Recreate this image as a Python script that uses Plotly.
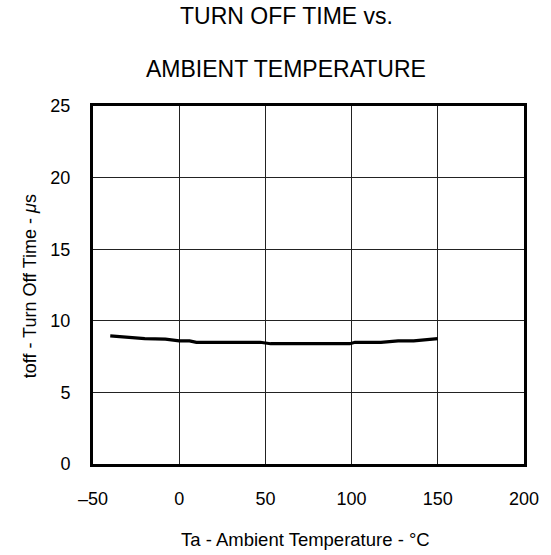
import plotly.graph_objects as go

# Data
temperature_c = [-40, -20, -8, 0, 6, 10, 47, 53, 99, 102, 117, 127, 136, 150]
toff_us = [8.95, 8.75, 8.72, 8.6, 8.6, 8.5, 8.5, 8.4, 8.4, 8.5, 8.5, 8.6, 8.6, 8.75]

x_ticks = [-50, 0, 50, 100, 150, 200]
x_tick_labels = ["\u201350", "0", "50", "100", "150", "200"]
y_ticks = [0, 5, 10, 15, 20, 25]
y_tick_labels = ["0", "5", "10", "15", "20", "25"]

title_lines = ["TURN OFF TIME vs.", "AMBIENT TEMPERATURE"]
x_title = "Ta - Ambient Temperature - \u00b0C"
y_title = "toff - Turn Off Time - <i>\u03bc</i>s"

W, H = 551, 555
ML, MR, MT, MB = 93, 25, 106, 91
PW, PH = W - ML - MR, H - MT - MB
FONT = "Liberation Sans, Arial, sans-serif"


def px_x(x):
    return (x - ML) / PW


def px_y(y):
    return (H - MB - y) / PH


fig = go.Figure()
fig.add_trace(go.Scatter(
    x=temperature_c, y=toff_us, mode="lines",
    line=dict(color="black", width=3.2),
    showlegend=False, hoverinfo="skip",
))

axis_common = dict(
    showgrid=True, gridcolor="#222222", gridwidth=1,
    zeroline=False, showline=True, linecolor="black", linewidth=3,
    mirror=True, ticks="", tickfont=dict(family=FONT, size=18, color="black"),
)
fig.update_xaxes(range=[-50, 200], tickvals=x_ticks, ticktext=x_tick_labels,
                 ticklabelstandoff=16, **axis_common)
fig.update_yaxes(range=[0, 25], tickvals=y_ticks, ticktext=y_tick_labels,
                 ticklabelstandoff=16, **axis_common)

annotations = [
    dict(text=title_lines[0], x=px_x(287), y=px_y(16), font=dict(size=23)),
    dict(text=title_lines[1], x=px_x(287), y=px_y(69), font=dict(size=23)),
    dict(text=x_title, x=px_x(306), y=px_y(539), font=dict(size=18.5)),
    dict(text=y_title, x=px_x(30), y=px_y(286), font=dict(size=18), textangle=-90),
]
for a in annotations:
    a.update(xref="paper", yref="paper", showarrow=False,
             xanchor="center", yanchor="middle")
    a["font"].update(family=FONT, color="black")

fig.update_layout(
    width=W, height=H,
    margin=dict(l=ML, r=MR, t=MT, b=MB),
    paper_bgcolor="white", plot_bgcolor="white",
    annotations=annotations,
)

fig.write_html("out.html")
